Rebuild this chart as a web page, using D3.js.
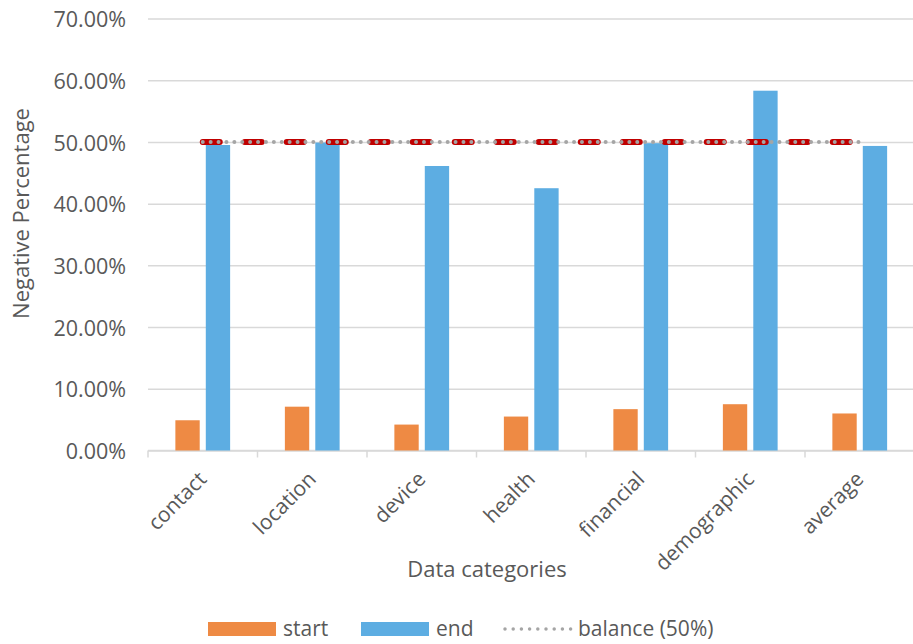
<!DOCTYPE html>
<html>
<head>
<meta charset="utf-8">
<script src="https://cdn.jsdelivr.net/npm/d3@7"></script>
<style>
  body { margin: 0; background: #fff; }
  text { font-family: "Open Sans", sans-serif; fill: #595959; }
</style>
</head>
<body>
<div id="chart"></div>
<script>
// chart data
let categories = ["contact", "location", "device", "health", "financial", "demographic", "average"];
let startValues = [0.049, 0.071, 0.042, 0.055, 0.067, 0.075, 0.060];
let endValues = [0.495, 0.499, 0.461, 0.425, 0.498, 0.583, 0.4935];
let balanceValues = [0.5, 0.5, 0.5, 0.5, 0.5, 0.5, 0.5];
let yTicks = [0, 0.1, 0.2, 0.3, 0.4, 0.5, 0.6, 0.7];
let seriesNames = ["start", "end", "balance (50%)"];

const WIDTH = 913, HEIGHT = 644;
let margin = {left: 148, top: 18.5, right: -1.5, bottom: 193.5};
let plot_w = WIDTH - margin.left - margin.right;
let plot_h = HEIGHT - margin.top - margin.bottom;

let colors = {start: "#EE8A44", end: "#5DADE2"};

let svg = d3.select("#chart")
    .append("svg")
    .attr("width", WIDTH)
    .attr("height", HEIGHT)
    .append("g")
    .attr("transform", `translate(${margin.left}, ${margin.top})`);

// scales
let x0 = d3.scaleBand()
    .domain(categories)
    .range([0, plot_w])
    .paddingInner(0.5)
    .paddingOuter(0.25);

let x1 = d3.scaleBand()
    .domain(["start", "end"])
    .range([0, x0.bandwidth()])
    .paddingInner(0.2);

let y = d3.scaleLinear()
    .domain([0, 0.7])
    .range([plot_h, 0]);

// gridlines + y labels
let yAxis = svg.append("g")
    .call(d3.axisLeft(y).tickValues(yTicks).tickSize(-plot_w).tickPadding(22)
        .tickFormat(d3.format(".2%")));
yAxis.select(".domain").remove();
yAxis.selectAll("line").attr("stroke", "#d9d9d9").attr("stroke-width", 1.5);
yAxis.selectAll("text")
    .style("font-size", "21.5px")
    .attr("fill", "#595959")
    .attr("dy", "0.38em");

// x axis baseline with boundary tick marks
let xAxis = svg.append("g").attr("transform", `translate(0, ${plot_h})`);
xAxis.append("line")
    .attr("x1", 0).attr("x2", plot_w)
    .attr("stroke", "#d9d9d9").attr("stroke-width", 1.5);
xAxis.selectAll(".tk")
    .data(categories)
    .enter()
    .append("line")
    .attr("x1", d => x0(d) - x0.step() * x0.paddingInner() / 2)
    .attr("x2", d => x0(d) - x0.step() * x0.paddingInner() / 2)
    .attr("y1", 0).attr("y2", 7)
    .attr("stroke", "#d9d9d9").attr("stroke-width", 1.5);

xAxis.selectAll(".lbl")
    .data(categories)
    .enter()
    .append("text")
    .attr("transform", d => `translate(${x0(d) + x0.bandwidth() / 2 + 5}, 30) rotate(-45)`)
    .style("text-anchor", "end")
    .style("font-size", "21px")
    .text(d => d);

// bars
let groups = svg.selectAll(".grp")
    .data(categories)
    .enter()
    .append("g")
    .attr("transform", d => `translate(${x0(d)}, 0)`);

groups.selectAll("rect")
    .data((d, i) => [{key: "start", value: startValues[i]}, {key: "end", value: endValues[i]}])
    .enter()
    .append("rect")
    .attr("x", d => x1(d.key))
    .attr("y", d => y(d.value))
    .attr("width", x1.bandwidth())
    .attr("height", d => plot_h - y(d.value))
    .attr("fill", d => colors[d.key]);

// balance line
let linePts = categories.map((c, i) => [x0(c) + x0.bandwidth() / 2, y(balanceValues[i])]);
let line = d3.line();
svg.append("path")
    .attr("d", line(linePts))
    .attr("fill", "none")
    .attr("stroke", "#C00000")
    .attr("stroke-width", 6)
    .attr("stroke-linecap", "round")
    .attr("stroke-dasharray", "17,25");
svg.append("path")
    .attr("d", line(linePts))
    .attr("fill", "none")
    .attr("stroke", "#A5A5A5")
    .attr("stroke-width", 4)
    .attr("stroke-linecap", "round")
    .attr("stroke-dasharray", "0,7.9");

// axis titles
svg.append("text")
    .attr("transform", `translate(${-119}, ${195}) rotate(-90)`)
    .style("text-anchor", "middle")
    .style("font-size", "22px")
    .text("Negative Percentage");

svg.append("text")
    .attr("x", 487 - margin.left)
    .attr("y", 577 - margin.top)
    .style("text-anchor", "middle")
    .style("font-size", "22px")
    .text("Data categories");

// legend
let legend = d3.select("svg").append("g");
let legendItems = [
    {name: seriesNames[0], x: 208, type: "rect", color: colors.start},
    {name: seriesNames[1], x: 361, type: "rect", color: colors.end},
    {name: seriesNames[2], x: 503, type: "line", color: "#A5A5A5"}
];
legendItems.forEach(function(it) {
    if (it.type === "rect") {
        legend.append("rect")
            .attr("x", it.x).attr("y", 622)
            .attr("width", 68).attr("height", 14)
            .attr("fill", it.color);
    } else {
        legend.append("line")
            .attr("x1", it.x + 2).attr("x2", it.x + 68)
            .attr("y1", 629).attr("y2", 629)
            .attr("stroke", it.color)
            .attr("stroke-width", 3.5)
            .attr("stroke-linecap", "round")
            .attr("stroke-dasharray", "0,8.2");
    }
    legend.append("text")
        .attr("x", it.x + 75)
        .attr("y", 636)
        .style("font-size", "21px")
        .text(it.name);
});
</script>
</body>
</html>
